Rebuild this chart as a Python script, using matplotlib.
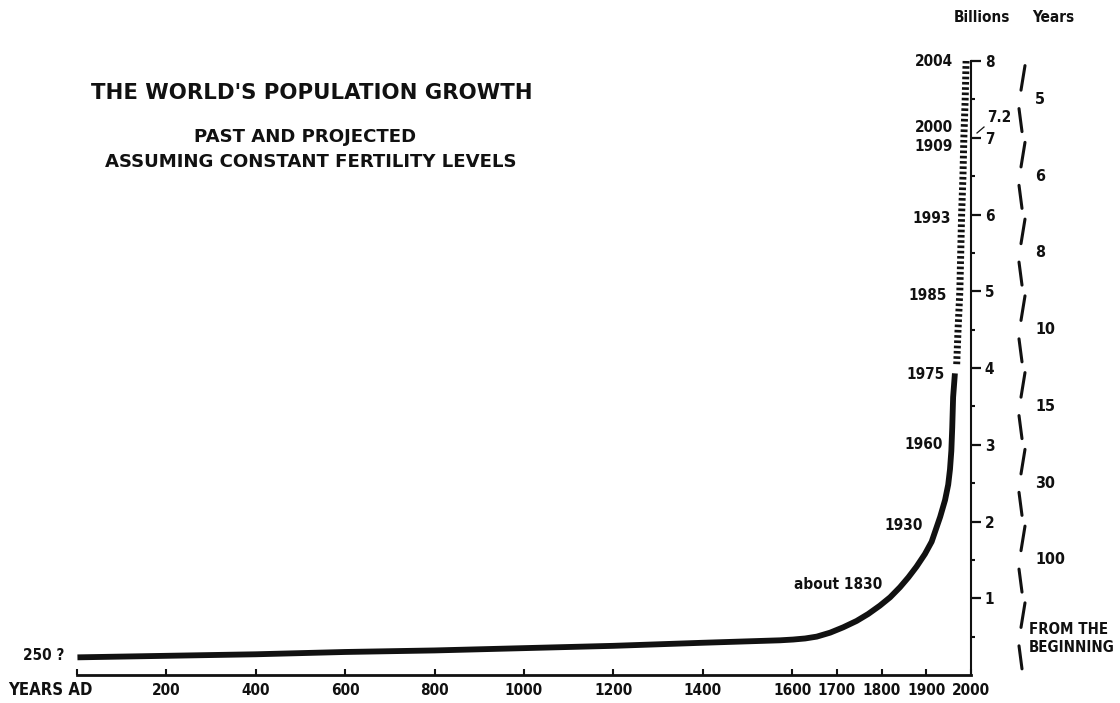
import matplotlib
matplotlib.use("Agg")
import matplotlib.pyplot as plt
from matplotlib.ticker import FixedLocator

# ---------------- data ----------------
past_years = [1, 200, 400, 600, 800, 1000, 1200, 1400, 1573, 1602, 1629, 1655, 1685,
              1714, 1744, 1770, 1796, 1819, 1841, 1860, 1878, 1897, 1912, 1931, 1942,
              1949, 1953, 1956, 1958, 1960, 1964]
past_pop = [0.23, 0.25, 0.27, 0.30, 0.32, 0.35, 0.38, 0.42, 0.452, 0.462, 0.476, 0.50, 0.552,
            0.621, 0.704, 0.795, 0.903, 1.012, 1.143, 1.273, 1.411, 1.577, 1.737, 2.06, 2.28,
            2.48, 2.68, 2.92, 3.22, 3.62, 3.93]
proj_years = [1968, 1971, 1975, 1977, 1979, 1982, 1984, 1987, 1989]
proj_pop = [4.05, 4.5, 5.0, 5.5, 6.0, 6.5, 7.0, 7.5, 8.0]

milestone_labels = ["about 1830", "1930", "1960", "1975", "1985", "1993", "1909", "2000", "2004"]
milestone_pop = [1.18, 1.95, 3.0, 3.92, 4.94, 5.95, 6.88, 7.14, 8.0]

x_ticks = [200, 400, 600, 800, 1000, 1200, 1400, 1600, 1700, 1800, 1900, 2000]
x_ticklabels = ["200", "400", "600", "800", "1000", "1200", "1400", "1600", "1700", "1800", "1900", "2000"]
y_ticks = [1, 2, 3, 4, 5, 6, 7, 8]
y_ticklabels = ["1", "2", "3", "4", "5", "6", "7", "8"]
y_minor = [0.5, 1.5, 2.5, 3.5, 4.5, 5.5, 6.5, 7.5]

billion_levels = [8, 7, 6, 5, 4, 3, 2, 1]
years_to_add = ["5", "6", "8", "10", "15", "30", "100", "FROM THE\nBEGINNING"]

# ---------------- layout ----------------
W, H = 1120, 703
X0, X1, Y0, Y8 = 77, 971, 675, 61
INK = "#111111"
COND = dict(family="DejaVu Sans", stretch="condensed", fontweight="bold")

fig = plt.figure(figsize=(W / 100, H / 100), dpi=100)
ax = fig.add_axes([X0 / W, (H - Y0) / H, (X1 - X0) / W, (Y0 - Y8) / H])
ax.set_xlim(0, 2000)
ax.set_ylim(0, 8)

def px_x(px):
    return (px - X0) * 2000.0 / (X1 - X0)

def px_y(py):
    return (Y0 - py) * 8.0 / (Y0 - Y8)

# spines
for s in ("top", "left"):
    ax.spines[s].set_visible(False)
ax.spines["bottom"].set_linewidth(2.0)
ax.spines["right"].set_linewidth(1.5)
ax.spines["bottom"].set_color(INK)
ax.spines["right"].set_color(INK)

# x ticks
ax.xaxis.set_major_locator(FixedLocator([0] + x_ticks))
ax.set_xticklabels([""] + x_ticklabels, fontsize=11, **COND)
ax.tick_params(axis="x", direction="in", length=4, width=1.5, pad=6, colors=INK)

# y ticks on right
ax.yaxis.tick_right()
ax.yaxis.set_major_locator(FixedLocator(y_ticks))
ax.yaxis.set_minor_locator(FixedLocator(y_minor))
ax.set_yticklabels(y_ticklabels, fontsize=11, **COND)
ax.tick_params(axis="y", which="major", direction="out", length=7, width=1.6, pad=3, colors=INK)
ax.tick_params(axis="y", which="minor", direction="out", length=3, width=1.5, colors=INK)
ax.patch.set_visible(False)

# curves
ax.plot(past_years, past_pop, color=INK, lw=4.2, solid_capstyle="butt",
        solid_joinstyle="round", clip_on=False)
ax.plot(proj_years, proj_pop, color=INK, lw=5.0, dash_capstyle="butt",
        linestyle=(0, (0.38, 0.38)), clip_on=False)

# milestone labels
label_right_px = [882, 923, 943, 945, 947, 951, 953, 953, 953]
for lab, yv, rx in zip(milestone_labels, milestone_pop, label_right_px):
    ax.text(px_x(rx), yv, lab, ha="right", va="center", fontsize=11, color=INK,
            clip_on=False, **COND)

# 7.2 annotation
ax.text(px_x(987), px_y(117), "7.2", ha="left", va="center", fontsize=11, color=INK, **COND)
ax.plot([px_x(984), px_x(977)], [px_y(127), px_y(133)], color=INK, lw=0.9, clip_on=False)

# start label
ax.text(px_x(64), px_y(655), "250 ?", ha="right", va="center", fontsize=11, color=INK, **COND)
ax.text(px_x(8), px_y(690), "YEARS AD", ha="left", va="center", fontsize=12, color=INK,
        clip_on=False, **COND)

# right column: years to add each billion
for top, lab in zip(billion_levels, years_to_add):
    ax.plot([px_x(1025), px_x(1021)], [top - 0.06, top - 0.38], color=INK, lw=2.2,
            solid_capstyle="round", clip_on=False)
    ax.plot([px_x(1019), px_x(1022)], [top - 0.62, top - 0.92], color=INK, lw=2.2,
            solid_capstyle="round", clip_on=False)
    if "\n" in lab:
        ax.text(px_x(1029), top - 0.52, lab, ha="left", va="center", fontsize=10.8,
                color=INK, linespacing=1.25, clip_on=False, **COND)
    else:
        ax.text(px_x(1035), top - 0.5, lab, ha="left", va="center", fontsize=11.5,
                color=INK, clip_on=False, **COND)

# column headers
fig.text(982 / W, 1 - 17 / H, "Billions", ha="center", va="center", fontsize=11, color=INK, **COND)
fig.text(1053 / W, 1 - 17 / H, "Years", ha="center", va="center", fontsize=11, color=INK, **COND)

# titles
fig.text(312 / W, 1 - 93 / H, "THE WORLD'S POPULATION GROWTH", ha="center", va="center",
         fontsize=15.3, fontweight="bold", color=INK)
fig.text(305 / W, 1 - 137 / H, "PAST AND PROJECTED", ha="center", va="center",
         fontsize=13.1, fontweight="bold", color=INK)
fig.text(311 / W, 1 - 162 / H, "ASSUMING CONSTANT FERTILITY LEVELS", ha="center", va="center",
         fontsize=13.1, fontweight="bold", color=INK)

fig.savefig("out.png", dpi=100)
